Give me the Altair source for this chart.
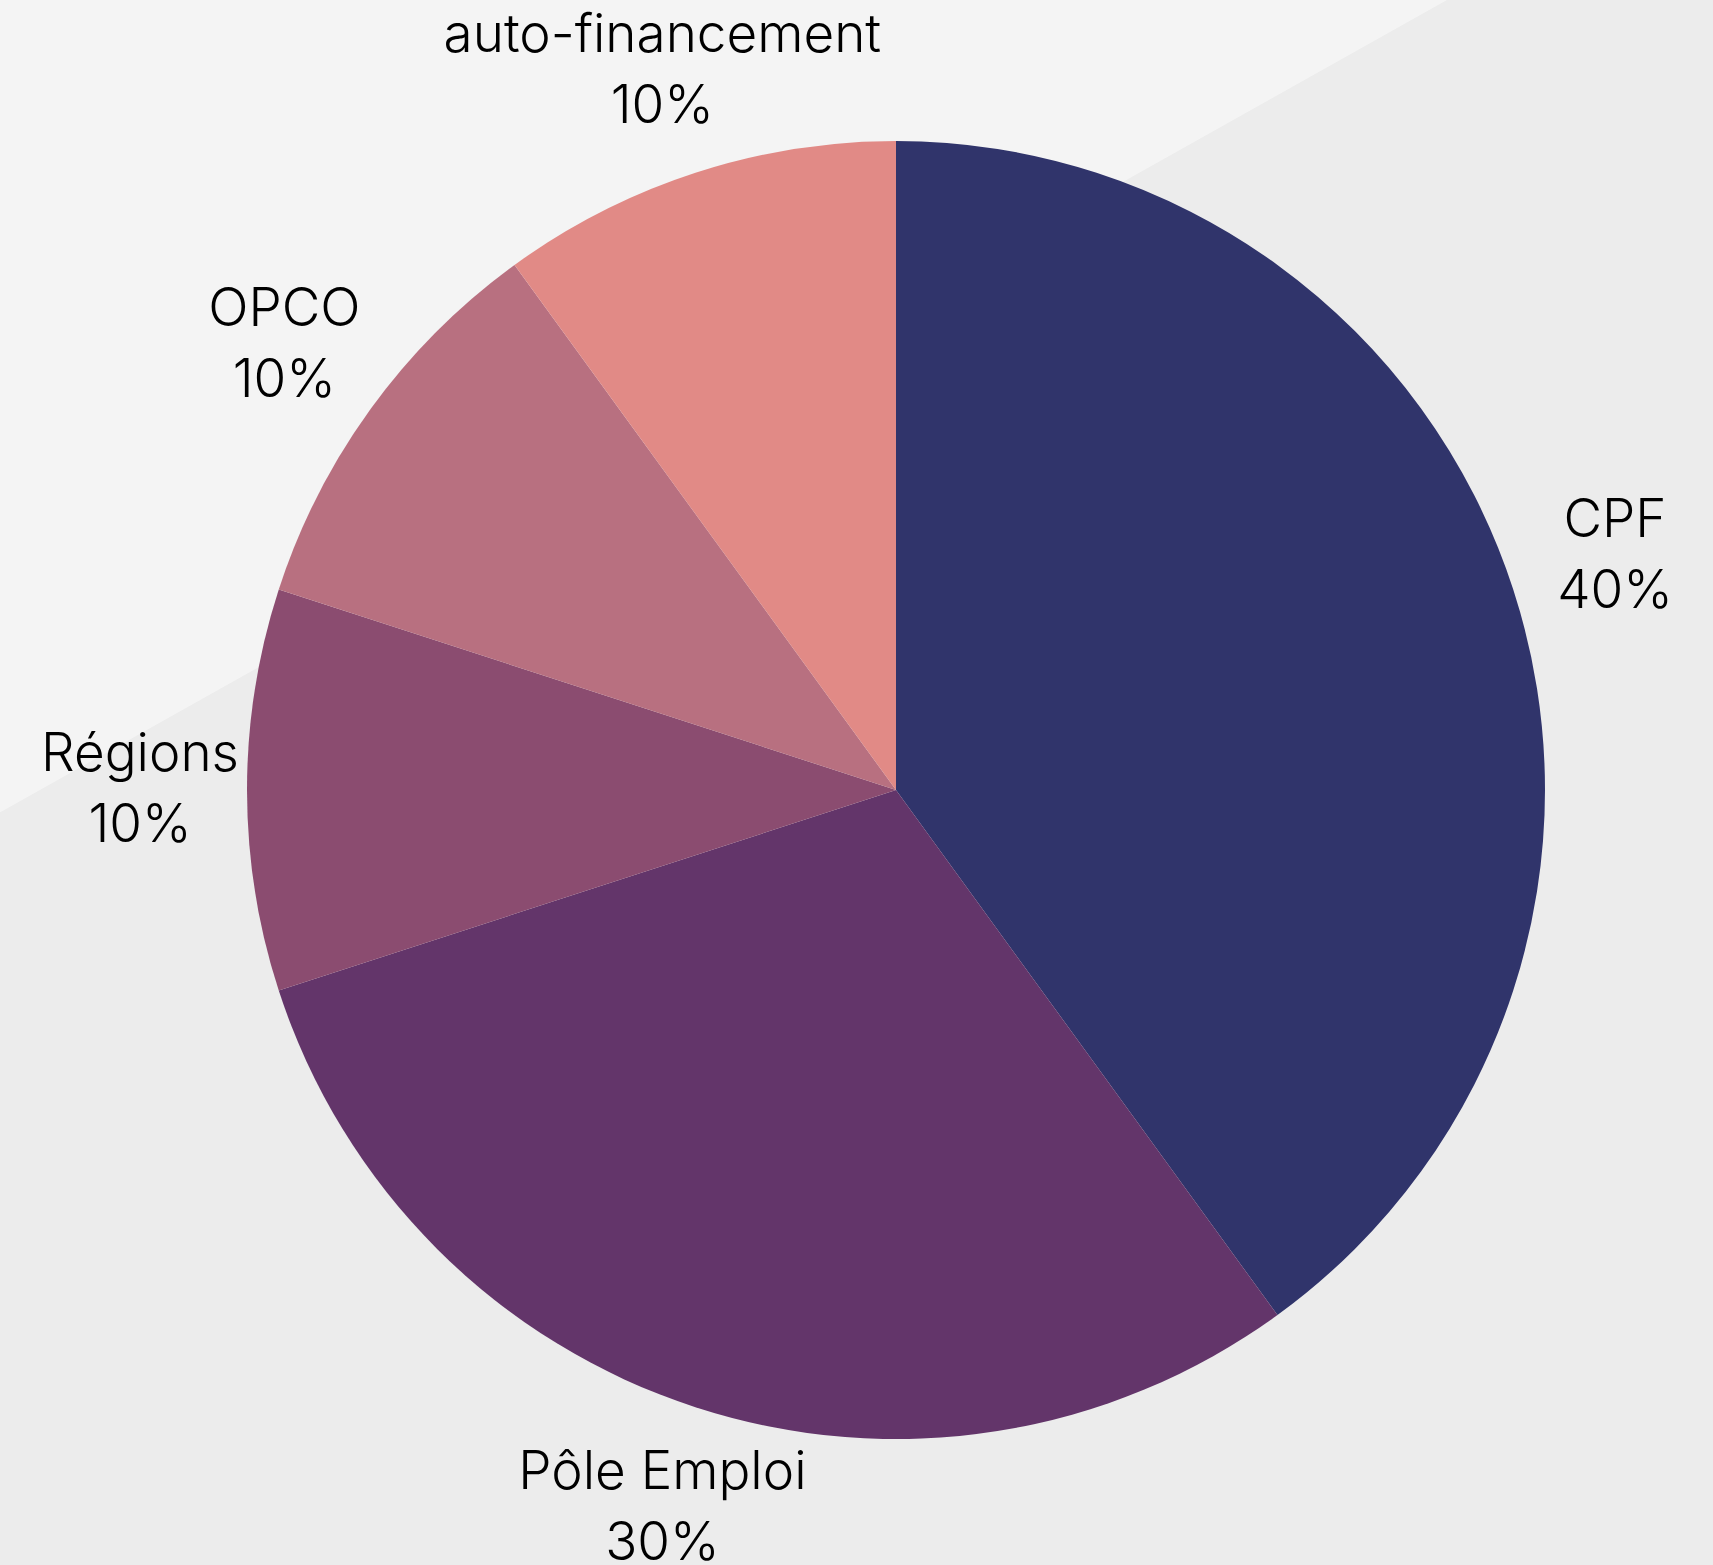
import altair as alt
import pandas as pd

categories = ["CPF", "Pôle Emploi", "Régions", "OPCO", "auto-financement"]
values = [40, 30, 10, 10, 10]
labels = ["40%", "30%", "10%", "10%", "10%"]
colors = ["#30346b", "#63356a", "#8b4c70", "#b87080", "#e18a86"]

df = pd.DataFrame({
    "cat": categories,
    "val": values,
    "pct": labels,
    "order": list(range(len(categories))),
})
df["text"] = df["cat"] + "\n" + df["pct"]

W, H = 1713, 1565
CX, CY = 896, 790
R = 649
RL = 756
LH = 71

bg = alt.Chart(alt.Data(values=[{}])).mark_rect(
    fill=alt.LinearGradient(
        gradient="linear",
        x1=0, y1=0, x2=0.5236, y2=0.852,
        stops=[
            alt.GradientStop(color="#f4f4f4", offset=0),
            alt.GradientStop(color="#f4f4f4", offset=0.442),
            alt.GradientStop(color="#ececec", offset=0.4425),
            alt.GradientStop(color="#ececec", offset=1),
        ],
    ),
    strokeWidth=0,
).encode(
    x=alt.value(0), x2=alt.value(W), y=alt.value(0), y2=alt.value(H)
)

base = alt.Chart(df).encode(
    theta=alt.Theta("val:Q", stack=True),
    order=alt.Order("order:Q"),
)

pie = base.mark_arc(radius=R, strokeWidth=0).encode(
    color=alt.Color("cat:N", scale=alt.Scale(domain=categories, range=colors), legend=None),
    x=alt.value(CX),
    y=alt.value(CY),
)

text = base.mark_text(
    radius=RL, font="Inter", fontSize=53, fontWeight=300, lineBreak="\n",
    lineHeight=LH, dy=-LH / 2, color="#000000", align="center", baseline="middle",
).encode(
    text="text:N",
    x=alt.value(CX),
    y=alt.value(CY),
)

chart = alt.layer(bg, pie, text).properties(
    width=W, height=H, padding=0, autosize=alt.AutoSizeParams(type="none"),
    background="#ececec",
).configure_view(stroke=None)

chart.save("out.html", embed_options={"renderer": "svg", "actions": False})
